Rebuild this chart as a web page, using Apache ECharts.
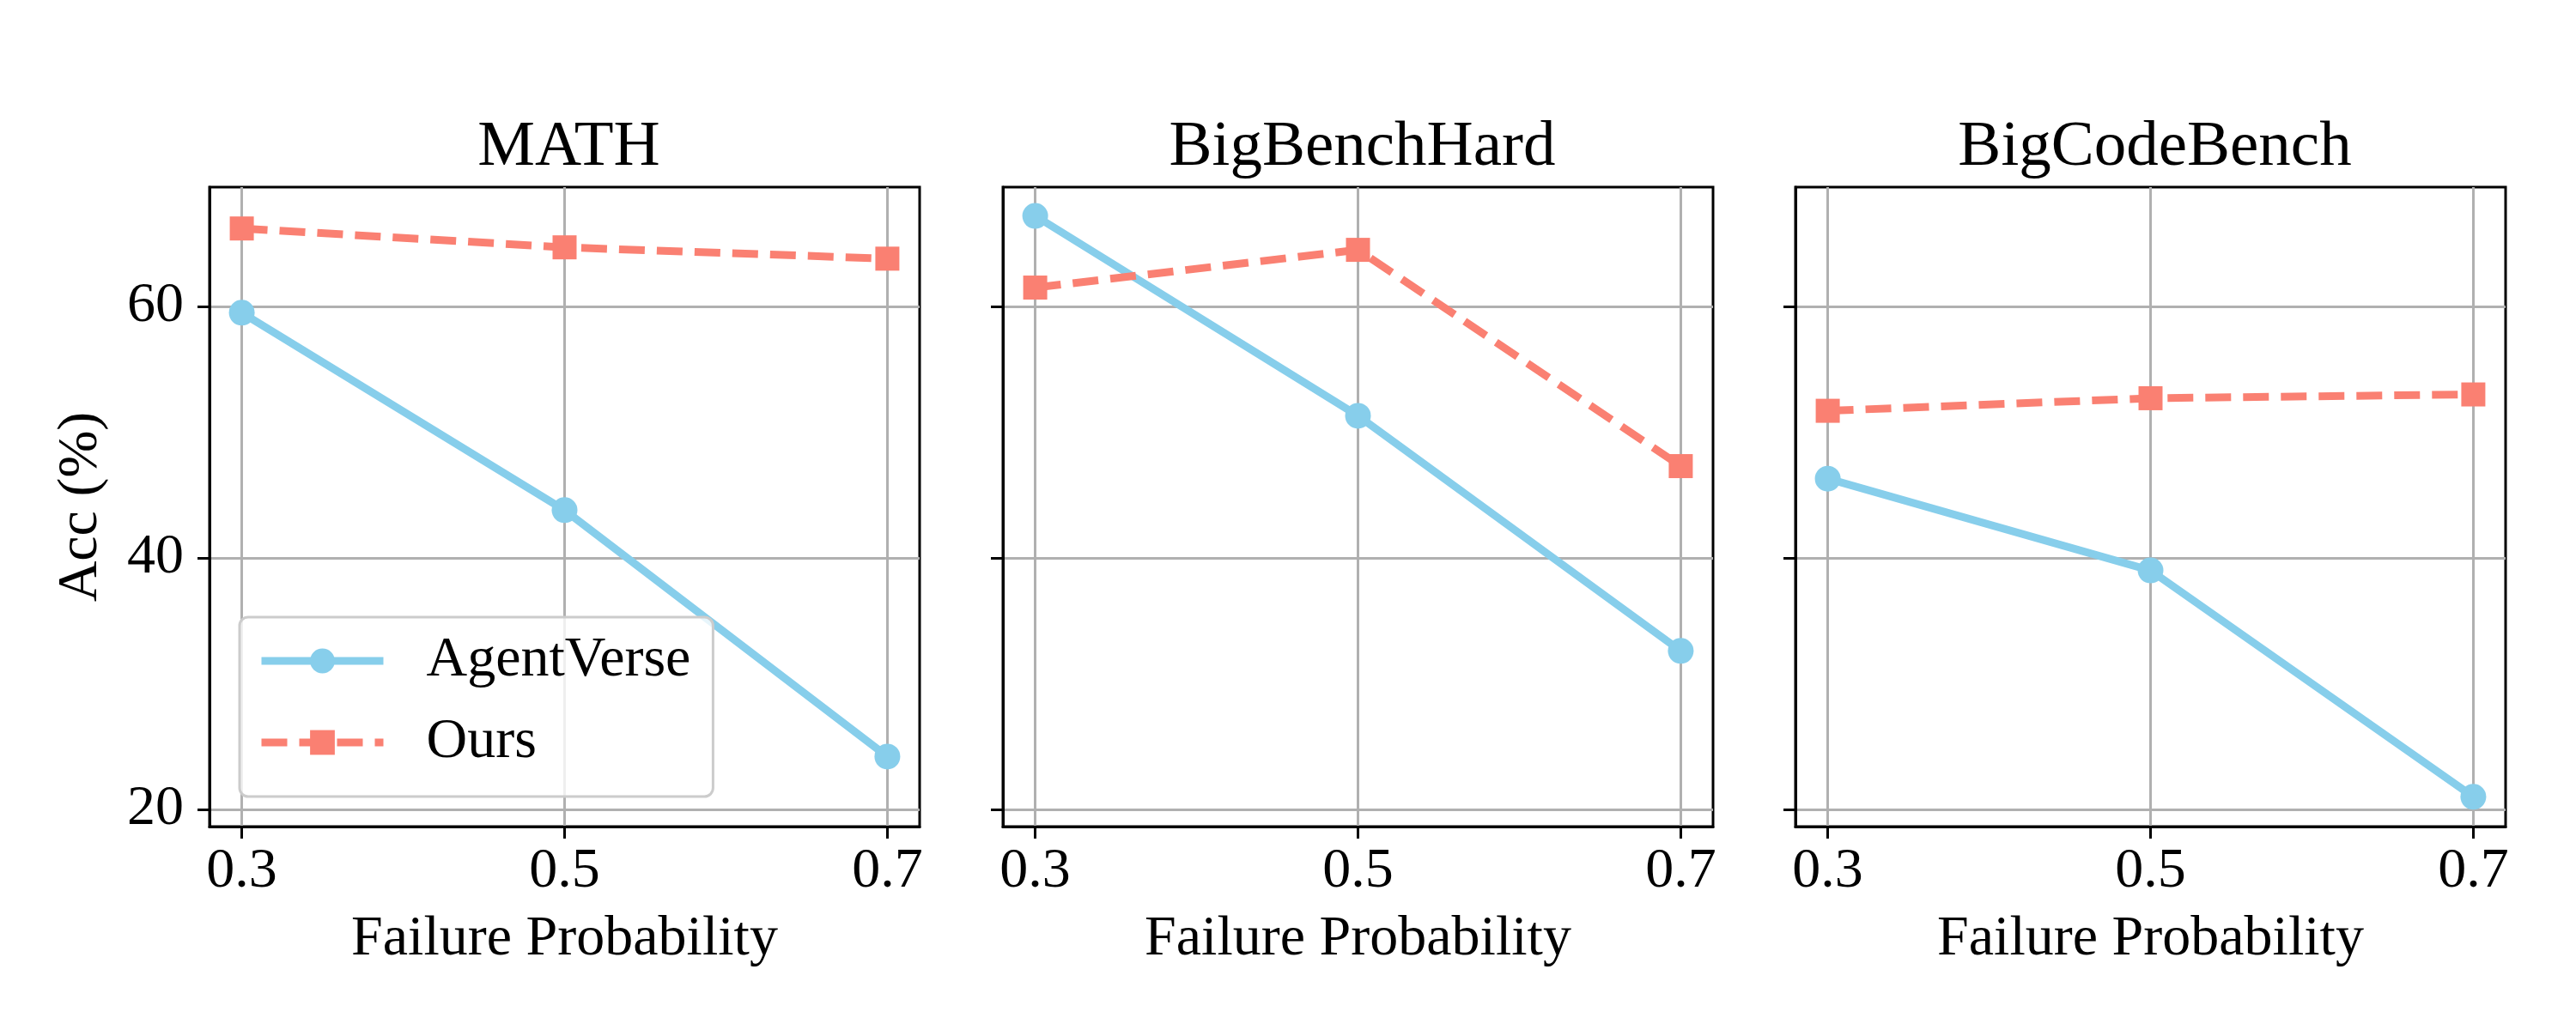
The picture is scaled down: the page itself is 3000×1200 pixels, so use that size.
<!DOCTYPE html>
<html lang="en">
<head>
<meta charset="UTF-8">
<title>Acc vs Failure Probability</title>
<script src="https://cdn.jsdelivr.net/npm/echarts@6/dist/echarts.min.js"></script>
<style>
  html, body { margin: 0; padding: 0; background: #fff; }
  #chart { width: 3000px; height: 1200px; }
</style>
</head>
<body>
<div id="chart"></div>
<script>
// data
const benchmarks = ['MATH', 'BigBenchHard', 'BigCodeBench'];
const failureProb = [0.3, 0.5, 0.7];
const agentVerse = [
  [59.5, 43.8, 24.2],   // MATH
  [67.2, 51.3, 32.6],   // BigBenchHard
  [46.3, 39.0, 21.0]    // BigCodeBench
];
const ours = [
  [66.2, 64.7, 63.8],
  [61.5, 64.5, 47.3],
  [51.7, 52.7, 53.0]
];
const yTicks = [20, 40, 60];
const xTicks = [0.3, 0.5, 0.7];

const chart = echarts.init(document.getElementById('chart'));
const font = '"Times New Roman", "Liberation Serif", Tinos, "DejaVu Serif", "Noto Serif", serif';
const lefts = [244, 1168, 2091];
const gridW = 827, gridTop = 218, gridH = 745;

const grids = [], xAxes = [], yAxes = [], titles = [], series = [];

benchmarks.forEach((name, i) => {
  grids.push({
    left: lefts[i], top: gridTop, width: gridW, height: gridH,
    show: true, borderColor: '#000', borderWidth: 3, backgroundColor: 'transparent'
  });
  titles.push({
    text: name,
    left: lefts[i] + gridW / 2, top: 130, textAlign: 'center',
    textStyle: { fontFamily: font, fontSize: 75, fontWeight: 'normal', color: '#000' }
  });
  xAxes.push({
    type: 'value', gridIndex: i, min: 0.28, max: 0.72,
    name: 'Failure Probability', nameLocation: 'middle', nameGap: 99,
    nameTextStyle: { fontFamily: font, fontSize: 66, color: '#000' },
    axisLine: { show: true, lineStyle: { color: '#000', width: 3 } },
    axisTick: { show: true, length: 14, lineStyle: { color: '#000', width: 3 }, customValues: xTicks },
    axisLabel: { customValues: xTicks, margin: 20, fontFamily: font, fontSize: 66, color: '#000',
      formatter: v => v.toFixed(1) },
    splitLine: { show: true, lineStyle: { color: '#b0b0b0', width: 3 } }
  });
  yAxes.push({
    type: 'value', gridIndex: i, min: 18.63, max: 69.49,
    name: i === 0 ? 'Acc (%)' : '', nameLocation: 'middle', nameGap: 116,
    nameTextStyle: { fontFamily: font, fontSize: 66, color: '#000' },
    axisLine: { show: true, lineStyle: { color: '#000', width: 3 } },
    axisTick: { show: true, length: 14, lineStyle: { color: '#000', width: 3 }, customValues: yTicks },
    axisLabel: { show: i === 0, customValues: yTicks, margin: 30, fontFamily: font, fontSize: 66, color: '#000' },
    splitLine: { show: true, lineStyle: { color: '#b0b0b0', width: 3 } }
  });
  series.push({
    name: 'AgentVerse', type: 'line', xAxisIndex: i, yAxisIndex: i,
    data: failureProb.map((x, k) => [x, agentVerse[i][k]]),
    symbol: 'circle', symbolSize: 30,
    itemStyle: { color: '#87CEEB' },
    lineStyle: { color: '#87CEEB', width: 9 },
    z: 3
  });
  series.push({
    name: 'Ours', type: 'line', xAxisIndex: i, yAxisIndex: i,
    data: failureProb.map((x, k) => [x, ours[i][k]]),
    symbol: 'rect', symbolSize: 28,
    itemStyle: { color: '#FA8072' },
    lineStyle: { color: '#FA8072', width: 9, type: [30, 14] },
    z: 4
  });
});

chart.setOption({
  animation: false,
  backgroundColor: '#fff',
  title: titles,
  grid: grids,
  xAxis: xAxes,
  yAxis: yAxes,
  legend: {
    data: ['AgentVerse', 'Ours'],
    orient: 'vertical',
    left: 279, top: 719,
    itemWidth: 142, itemHeight: 36, itemGap: 29,
    padding: [18, 26, 30, 21],
    backgroundColor: 'rgba(255,255,255,0.8)',
    borderColor: '#cccccc', borderWidth: 3, borderRadius: 10,
    lineStyle: { width: 9 },
    textStyle: { fontFamily: font, fontSize: 66, lineHeight: 66, color: '#000', padding: [0, 0, 0, 45] },
    z: 10
  },
  series: series
});
</script>
</body>
</html>
